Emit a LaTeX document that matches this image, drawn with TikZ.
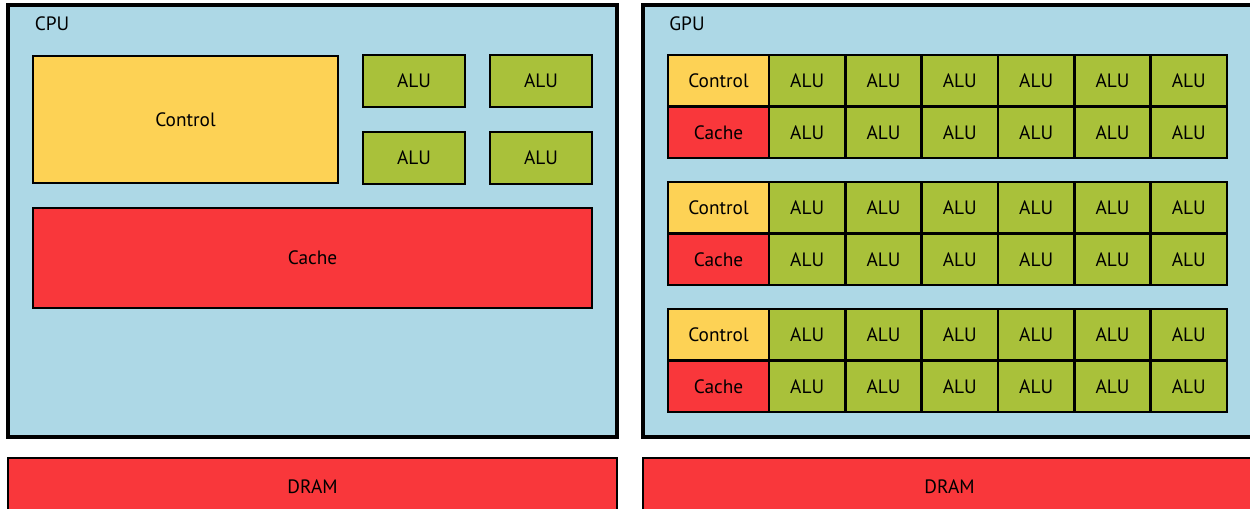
\documentclass[tikz,border=0pt]{standalone}
\usepackage{fontspec}
\setmainfont{PT Sans}
\definecolor{bgblue}{RGB}{173,216,230}
\definecolor{ctrlyel}{RGB}{253,210,85}
\definecolor{cachered}{RGB}{249,55,59}
\definecolor{alugreen}{RGB}{169,193,58}
\tikzset{
  blk/.style={draw=black, line width=2.1pt, inner sep=0pt, outer sep=0pt, font=\fontsize{14.5}{16}\selectfont},
  ctrlbox/.style={blk, fill=ctrlyel},
  cachebox/.style={blk, fill=cachered},
  alubox/.style={blk, fill=alugreen},
  chipbox/.style={blk, fill=bgblue, line width=2.3pt},
  lbl/.style={inner sep=0pt, font=\fontsize{14.5}{16}\selectfont}
}
% \pbox{x1}{y1}{x2}{y2}{name}{style}{text}
\newcommand{\pbox}[7]{%
  \node[#6, minimum width={((#3)-(#1))*0.75pt}, minimum height={((#4)-(#2))*0.75pt}] (#5) at ({((#1)+(#3))/2},{((#2)+(#4))/2}) {#7};}
\begin{document}
\begin{tikzpicture}[x=0.75pt,y=-0.75pt]
\useasboundingbox (0,0) rectangle (1250,509);
\clip (0,0) rectangle (1250,509);
% CPU
\pbox{8}{5}{617}{437}{cpu}{chipbox}{}
\node[lbl] (cpulbl) at (52,24) {CPU};
\pbox{33}{56}{338}{183}{cctrl}{ctrlbox}{Control}
\pbox{363}{55}{465}{107}{calu1}{alubox}{ALU}
\pbox{490}{55}{592}{107}{calu2}{alubox}{ALU}
\pbox{363}{132}{465}{184}{calu3}{alubox}{ALU}
\pbox{490}{132}{592}{184}{calu4}{alubox}{ALU}
\pbox{33}{208}{592}{308}{ccache}{cachebox}{Cache}
\pbox{8}{458}{617}{516}{cdram}{cachebox}{DRAM}
% GPU
\pbox{643}{5}{1256}{437}{gpu}{chipbox}{}
\node[lbl] (gpulbl) at (687,24) {GPU};
\foreach \g/\y in {1/55,2/182,3/309}{
  \pbox{668}{\y}{769}{\y+51.5}{gctrl\g}{ctrlbox}{Control}
  \pbox{668}{\y+51.5}{769}{\y+103}{gcache\g}{cachebox}{Cache}
  \foreach \c in {0,...,5}{
    \pbox{769+76.33*\c}{\y}{769+76.33*(\c+1)}{\y+51.5}{galu\g a\c}{alubox}{ALU}
    \pbox{769+76.33*\c}{\y+51.5}{769+76.33*(\c+1)}{\y+103}{galu\g b\c}{alubox}{ALU}
  }
}
\pbox{643}{458}{1256}{516}{gdram}{cachebox}{DRAM}
\end{tikzpicture}
\end{document}
